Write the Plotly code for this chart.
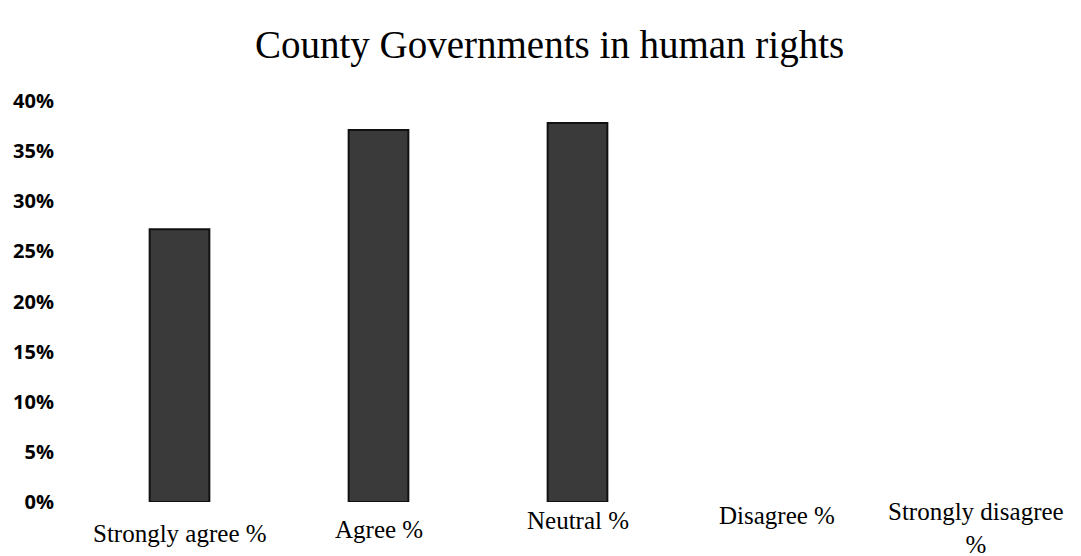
import plotly.graph_objects as go

categories = ["Strongly agree %", "Agree %", "Neutral %", "Disagree %", "Strongly disagree<br>%"]
values = [0.272, 0.371, 0.378, 0.0, 0.0]
y_ticks = [0, 0.05, 0.10, 0.15, 0.20, 0.25, 0.30, 0.35, 0.40]
y_labels = ["0%", "5%", "10%", "15%", "20%", "25%", "30%", "35%", "40%"]

# no outline on empty bars, otherwise they show up as a flat line
line_widths = [2 if v > 0 else 0 for v in values]

fig = go.Figure(go.Bar(
    x=categories,
    y=values,
    width=0.3,
    marker=dict(color="#3a3a3a", line=dict(color="#111111", width=line_widths)),
))

# category labels drawn as annotations so the two-line one fits in the page;
# the scan sits them slightly higher towards the right
label_shifts = [-16, -12, -3, 2, 6]
for cat, shift in zip(categories, label_shifts):
    fig.add_annotation(
        x=cat, y=0, xref="x", yref="paper",
        text=cat, showarrow=False,
        yanchor="top", yshift=shift,
        font=dict(family="Liberation Serif", size=25, color="black"),
    )

fig.update_layout(
    title=dict(
        text="County Governments in human rights",
        font=dict(family="Liberation Serif", size=39, color="black"),
        x=0.501,
        xanchor="center",
        y=0.935,
        yanchor="middle",
    ),
    width=1081,
    height=556,
    margin=dict(l=72, r=14, t=93, b=62),
    plot_bgcolor="white",
    paper_bgcolor="white",
    showlegend=False,
)

fig.update_xaxes(
    automargin=False,
    showgrid=False,
    showline=False,
    zeroline=False,
    ticks="",
    showticklabels=False,
)

fig.update_yaxes(
    automargin=False,
    range=[0, 0.4],
    tickvals=y_ticks,
    ticktext=y_labels,
    showgrid=False,
    showline=False,
    zeroline=False,
    ticks="",
    ticklabelstandoff=25,
    tickfont=dict(family="Open Sans", size=20, color="black", weight="bold"),
)

fig.write_html("out.html")
